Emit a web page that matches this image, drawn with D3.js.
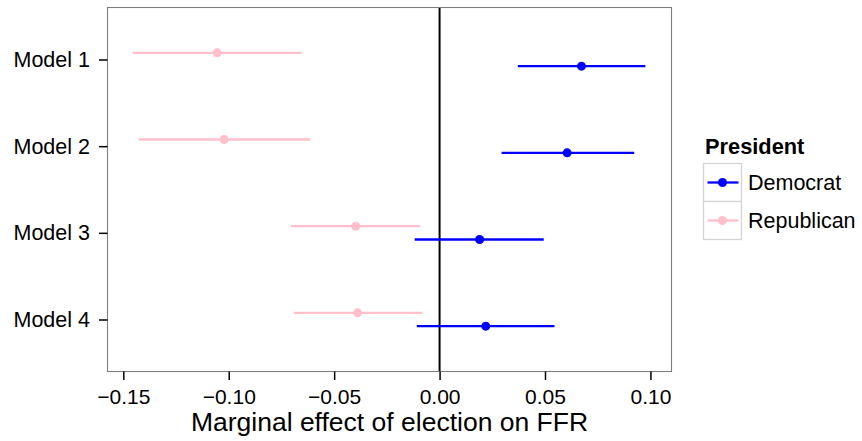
<!DOCTYPE html>
<html>
<head>
<meta charset="utf-8">
<script src="https://cdn.jsdelivr.net/npm/d3@7"></script>
<style>
  html, body { margin: 0; padding: 0; background: #fff; }
  text { font-family: "Liberation Sans", Arial, Helvetica, sans-serif; }
</style>
</head>
<body>
<svg id="chart" width="862" height="441"></svg>
<script>
// ---- data ----
const models = ["Model 1", "Model 2", "Model 3", "Model 4"];
const demEst = [0.0673, 0.0605, 0.0190, 0.0219];
const demLo  = [0.0371, 0.0294, -0.0118, -0.0108];
const demHi  = [0.0976, 0.0923, 0.0494, 0.0545];
const repEst = [-0.1055, -0.1022, -0.0398, -0.0389];
const repLo  = [-0.1455, -0.1428, -0.0705, -0.0692];
const repHi  = [-0.0654, -0.0613, -0.0092, -0.0082];
const xTicks = [-0.15, -0.10, -0.05, 0.00, 0.05, 0.10];
const seriesNames = ["Democrat", "Republican"];
const seriesColors = ["#0000FF", "#FFC0CB"];
const legendTitle = "President";
const xTitle = "Marginal effect of election on FFR";

// ---- layout ----
const svg = d3.select("#chart");
const panel = { left: 107.5, top: 7.5, right: 671.5, bottom: 371.5 };

const x = d3.scaleLinear().domain([-0.1575, 0.1100]).range([panel.left, panel.right]);
const y = d3.scalePoint().domain(models).range([panel.top, panel.bottom]).padding(0.6);
const dodge = y.step() * 0.077;

const series = [
  { name: seriesNames[1], color: seriesColors[1], est: repEst, lo: repLo, hi: repHi, off: -dodge },
  { name: seriesNames[0], color: seriesColors[0], est: demEst, lo: demLo, hi: demHi, off: dodge }
];

// panel background
svg.append("rect")
  .attr("x", panel.left).attr("y", panel.top)
  .attr("width", panel.right - panel.left).attr("height", panel.bottom - panel.top)
  .attr("fill", "#fff");

// zero line
svg.append("line")
  .attr("x1", x(0)).attr("x2", x(0))
  .attr("y1", panel.top).attr("y2", panel.bottom)
  .attr("stroke", "#000").attr("stroke-width", 2);

// error bars + points
series.forEach(s => {
  const g = svg.append("g");
  const rows = models.map((m, i) => ({ m, est: s.est[i], lo: s.lo[i], hi: s.hi[i] }));
  g.selectAll("line").data(rows).join("line")
    .attr("x1", d => x(d.lo)).attr("x2", d => x(d.hi))
    .attr("y1", d => y(d.m) + s.off).attr("y2", d => y(d.m) + s.off)
    .attr("stroke", s.color).attr("stroke-width", 2.3);
  g.selectAll("circle").data(rows).join("circle")
    .attr("cx", d => x(d.est)).attr("cy", d => y(d.m) + s.off)
    .attr("r", 4.5).attr("fill", s.color);
});

// panel border
svg.append("rect")
  .attr("x", panel.left).attr("y", panel.top)
  .attr("width", panel.right - panel.left).attr("height", panel.bottom - panel.top)
  .attr("fill", "none").attr("stroke", "#7f7f7f").attr("stroke-width", 1.1);

// x axis
const xAxis = d3.axisBottom(x).tickValues(xTicks).tickSize(8.5).tickPadding(9)
  .tickFormat(d => d3.format(".2f")(d).replace("-", "\u2212"));
const gx = svg.append("g").attr("transform", `translate(0,${panel.bottom})`).call(xAxis);
gx.select(".domain").remove();
gx.selectAll(".tick line").attr("stroke", "#000").attr("stroke-width", 1.5);
gx.selectAll(".tick text").attr("fill", "#000").attr("font-size", 21)
  .attr("font-family", "Liberation Sans, Arial, sans-serif");

// y axis
const yAxis = d3.axisLeft(y).tickSize(8.5).tickPadding(9);
const gy = svg.append("g").attr("transform", `translate(${panel.left},0)`).call(yAxis);
gy.select(".domain").remove();
gy.selectAll(".tick line").attr("stroke", "#000").attr("stroke-width", 1.5);
gy.selectAll(".tick text").attr("fill", "#000").attr("font-size", 21.5)
  .attr("font-family", "Liberation Sans, Arial, sans-serif");

// x title
svg.append("text")
  .attr("x", (panel.left + panel.right) / 2).attr("y", 431)
  .attr("text-anchor", "middle").attr("font-size", 26.5).attr("fill", "#000")
  .text(xTitle);

// legend
const lg = svg.append("g");
lg.append("text").attr("x", 705).attr("y", 153.5)
  .attr("font-size", 21.8).attr("font-weight", "bold").attr("fill", "#000")
  .text(legendTitle);
seriesNames.forEach((name, i) => {
  const top = 163.5 + i * 38;
  lg.append("rect").attr("x", 703.5).attr("y", top).attr("width", 38).attr("height", 38)
    .attr("fill", "#fff").attr("stroke", "#d4d4d4").attr("stroke-width", 1.3);
  lg.append("line").attr("x1", 707.5).attr("x2", 738.5)
    .attr("y1", top + 19).attr("y2", top + 19)
    .attr("stroke", seriesColors[i]).attr("stroke-width", 2.3);
  lg.append("circle").attr("cx", 722.5).attr("cy", top + 19).attr("r", 4.5)
    .attr("fill", seriesColors[i]);
  lg.append("text").attr("x", 748).attr("y", top + 19).attr("dy", "0.36em")
    .attr("font-size", 21.5).attr("fill", "#000").text(name);
});
</script>
</body>
</html>
